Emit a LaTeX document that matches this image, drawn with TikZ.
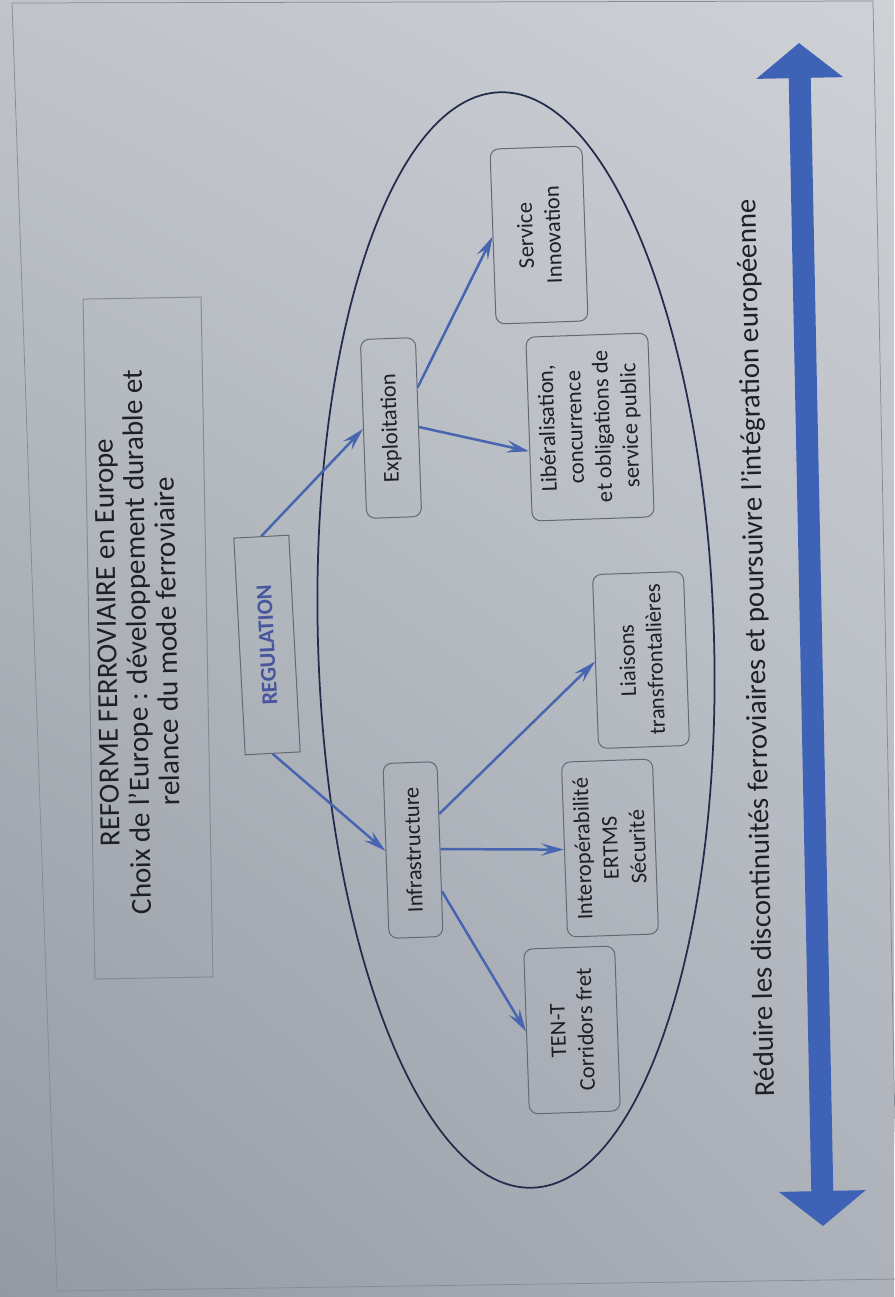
\documentclass[tikz,border=0pt]{standalone}
\usepackage{fontspec}
\setmainfont{Carlito}
\usepackage{tikz}
\usetikzlibrary{arrows.meta, calc, shadings}

\definecolor{arrowblue}{RGB}{62,98,182}
\definecolor{linkblue}{RGB}{72,102,176}
\definecolor{regblue}{RGB}{72,86,160}
\definecolor{boxgray}{RGB}{100,105,114}
\definecolor{titlegray}{RGB}{135,140,148}
\definecolor{inkdark}{RGB}{30,32,38}
\definecolor{ovalnavy}{RGB}{35,45,75}
\definecolor{pageUL}{RGB}{192,196,202}
\definecolor{pageUR}{RGB}{206,209,214}
\definecolor{pageLL}{RGB}{148,154,163}
\definecolor{pageLR}{RGB}{172,177,186}

\begin{document}
\begin{tikzpicture}[x=0.2mm, y=-0.2mm,
    box/.style={draw=boxgray, line width=0.2mm, rounded corners=5pt, rotate=92, align=center, text=inkdark, inner sep=1pt, font=\fontsize{12.8}{15.7}\selectfont},
    link/.style={draw=linkblue, line width=0.5mm, -{Stealth[length=13pt, width=7pt, inset=5pt]}}]

    % page (photo background)
    \shade[upper left=pageUL, upper right=pageUR, lower left=pageLL, lower right=pageLR] (0,0) rectangle (894,1297);
    \useasboundingbox (0,0) rectangle (894,1297);
    \draw[titlegray, line width=0.15mm] (12,3) -- (873,1) -- (898,1279) -- (57,1291) -- cycle;

    % title
    \draw[titlegray, line width=0.2mm, rotate around={1:(148,638)}] (89,298) rectangle (207,978);
    \node[rotate=91, align=center, text=inkdark, font=\fontsize{16.6}{17.2}\selectfont] (titre) at (137,642)
        {REFORME FERROVIAIRE en Europe\\Choix de l’Europe : développement durable et\\relance du mode ferroviaire};

    % oval around the two branches
    \draw[ovalnavy, line width=0.35mm, rotate around={1.7:(516,640)}] (516,640) ellipse [x radius=198, y radius=548];

    % regulation
    \node[draw=boxgray, line width=0.2mm, rotate=93, minimum width=43.4mm, minimum height=11mm, text=regblue,
          font=\fontsize{12.8}{15.7}\selectfont\bfseries] (reg) at (267,645) {REGULATION};

    % exploitation branch
    \node[box, minimum width=35.8mm, minimum height=11mm] (exp) at (391,428) {Exploitation};
    \node[box, minimum width=35mm, minimum height=18.4mm] (serv) at (539,235) {Service\\Innovation};
    \node[box, minimum width=36.8mm, minimum height=24.4mm] (lib) at (590,427) {Libéralisation,\\concurrence\\et obligations de\\service public};

    % infrastructure branch
    \node[box, minimum width=35mm, minimum height=10.8mm] (infra) at (413,850) {Infrastructure};
    \node[box, minimum width=34.8mm, minimum height=18.2mm] (liais) at (641,660) {Liaisons\\transfrontalières};
    \node[box, minimum width=35mm, minimum height=18.2mm] (inter) at (610,848) {Interopérabilité\\ERTMS\\Sécurité};
    \node[box, minimum width=33mm, minimum height=18.2mm] (tent) at (572,1030) {TEN-T\\Corridors fret};

    \draw[link] (reg.east) -- (exp.north);
    \draw[link] (reg.west) -- (infra.north);
    \draw[link] (exp.south) -- ($(lib.north west)!0.38!(lib.north east)$);
    \draw[link] ($(exp.south west)!0.72!(exp.south east)$) -- (serv.north);
    \draw[link] ($(infra.south west)!0.26!(infra.south east)$) -- (tent.north);
    \draw[link] (infra.south) -- (inter.north);
    \draw[link] ($(infra.south west)!0.70!(infra.south east)$) -- (liais.north);

    % goal and double arrow
    \node[rotate=91.2, text=inkdark, font=\fontsize{16.4}{19}\selectfont] (goal) at (757,648)
        {Réduire les discontinuités ferroviaires et poursuivre l’intégration européenne};
    \coordinate (arrtop) at (799,43);
    \coordinate (arrbot) at (823,1226);
    \draw[arrowblue, line width=4.4mm, {Triangle[length=7mm, width=17mm]}-{Triangle[length=7mm, width=17mm]}] (arrtop) -- (arrbot);
\end{tikzpicture}
\end{document}
